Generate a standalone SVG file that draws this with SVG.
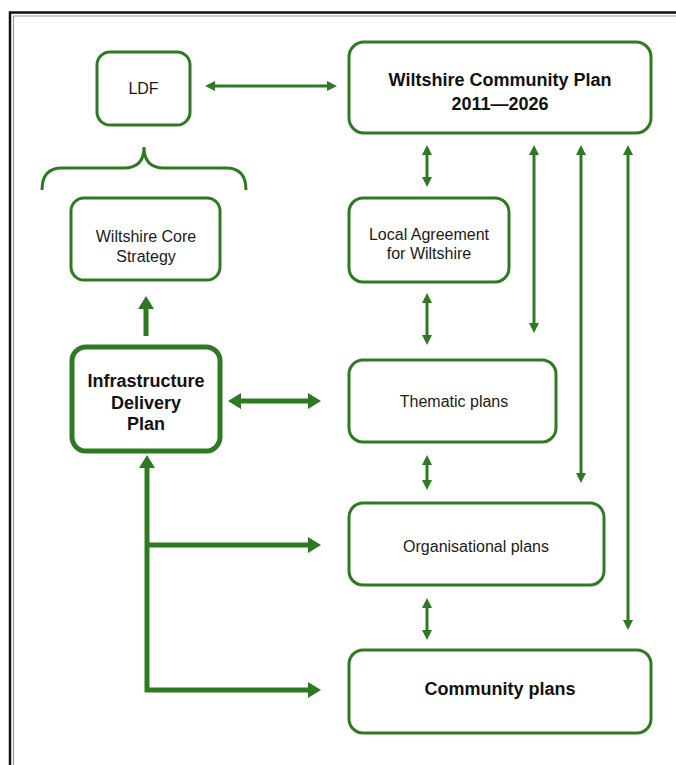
<svg xmlns="http://www.w3.org/2000/svg" width="676" height="765" viewBox="0 0 676 765">
<defs>
<style>
.box{fill:#fff;stroke:#2e7a22;stroke-width:3}
.bold{stroke-width:5}
.t{font-family:"Liberation Sans",Arial,sans-serif;font-size:16px;fill:#1a1a1a;text-anchor:middle}
.tb{font-family:"Liberation Sans",Arial,sans-serif;font-size:18px;font-weight:bold;fill:#111;text-anchor:middle}
.ln{fill:none;stroke:#2e7a22;stroke-width:3}
.lt{fill:none;stroke:#2e7a22;stroke-width:5}
</style>
<marker id="a" viewBox="0 0 10 10" refX="6" refY="5" markerWidth="10" markerHeight="10" markerUnits="userSpaceOnUse" orient="auto-start-reverse"><path d="M0,0 L10,5 L0,10 z" fill="#2e7a22"/></marker>
<marker id="b" viewBox="0 0 13 16" refX="6" refY="8" markerWidth="13" markerHeight="16" markerUnits="userSpaceOnUse" orient="auto-start-reverse"><path d="M0,0 L13,8 L0,16 z" fill="#2e7a22"/></marker>
</defs>
<rect width="676" height="765" fill="#fff"/>
<g id="frame">
<path d="M10,765 V12.5 H676" fill="none" stroke="#111" stroke-width="2.5"/>
<path d="M13.5,765 V16 H676" fill="none" stroke="#999" stroke-width="1.2"/>
</g>
<g id="connectors">
<line class="ln" x1="209" y1="86" x2="333" y2="86" marker-start="url(#a)" marker-end="url(#a)"/>
<line class="ln" x1="427" y1="149" x2="427" y2="183" marker-start="url(#a)" marker-end="url(#a)"/>
<line class="ln" x1="427" y1="297" x2="427" y2="341" marker-start="url(#a)" marker-end="url(#a)"/>
<line class="ln" x1="427" y1="459" x2="427" y2="486" marker-start="url(#a)" marker-end="url(#a)"/>
<line class="ln" x1="427" y1="602" x2="427" y2="636" marker-start="url(#a)" marker-end="url(#a)"/>
<line class="ln" x1="534" y1="149" x2="534" y2="329" marker-start="url(#a)" marker-end="url(#a)"/>
<line class="ln" x1="581" y1="149" x2="581" y2="479" marker-start="url(#a)" marker-end="url(#a)"/>
<line class="ln" x1="628" y1="149" x2="628" y2="626" marker-start="url(#a)" marker-end="url(#a)"/>
<path class="ln" d="M42,190 C42,176 48,168 62,168 L124,168 C136,168 144,162 144,147 C144,162 152,168 164,168 L226,168 C240,168 246,176 246,190"/>
<line class="lt" x1="146" y1="336" x2="146" y2="303" marker-end="url(#b)"/>
<line class="lt" x1="235" y1="401" x2="314" y2="401" marker-start="url(#b)" marker-end="url(#b)"/>
<line class="lt" x1="147" y1="692" x2="147" y2="462" marker-end="url(#b)"/>
<line class="lt" x1="147" y1="545" x2="314" y2="545" marker-end="url(#b)"/>
<line class="lt" x1="145" y1="690" x2="314" y2="690" marker-end="url(#b)"/>
</g>
<g id="ldf">
<rect class="box" x="97" y="52" width="93" height="73" rx="13"/>
<text class="t" x="143.5" y="94">LDF</text>
</g>
<g id="wcp">
<rect class="box" x="349" y="42" width="302" height="91" rx="15"/>
<text class="tb" x="500" y="86">Wiltshire Community Plan</text>
<text class="tb" x="500" y="110">2011—2026</text>
</g>
<g id="wcs">
<rect class="box" x="71" y="198" width="149" height="82" rx="13"/>
<text class="t" x="146" y="242">Wiltshire Core</text>
<text class="t" x="146" y="262">Strategy</text>
</g>
<g id="idp">
<rect class="box bold" x="72" y="347" width="148" height="104" rx="14"/>
<text class="tb" x="146" y="387">Infrastructure</text>
<text class="tb" x="146" y="409">Delivery</text>
<text class="tb" x="146" y="430">Plan</text>
</g>
<g id="law">
<rect class="box" x="349" y="198" width="160" height="84" rx="14"/>
<text class="t" x="429" y="240">Local Agreement</text>
<text class="t" x="429" y="259">for Wiltshire</text>
</g>
<g id="thematic">
<rect class="box" x="349" y="360" width="207" height="82" rx="14"/>
<text class="t" x="454" y="407">Thematic plans</text>
</g>
<g id="org">
<rect class="box" x="349" y="503" width="255" height="82" rx="14"/>
<text class="t" x="476" y="552">Organisational plans</text>
</g>
<g id="community">
<rect class="box" x="349" y="650" width="302" height="83" rx="14"/>
<text class="tb" x="500" y="695">Community plans</text>
</g>
</svg>
